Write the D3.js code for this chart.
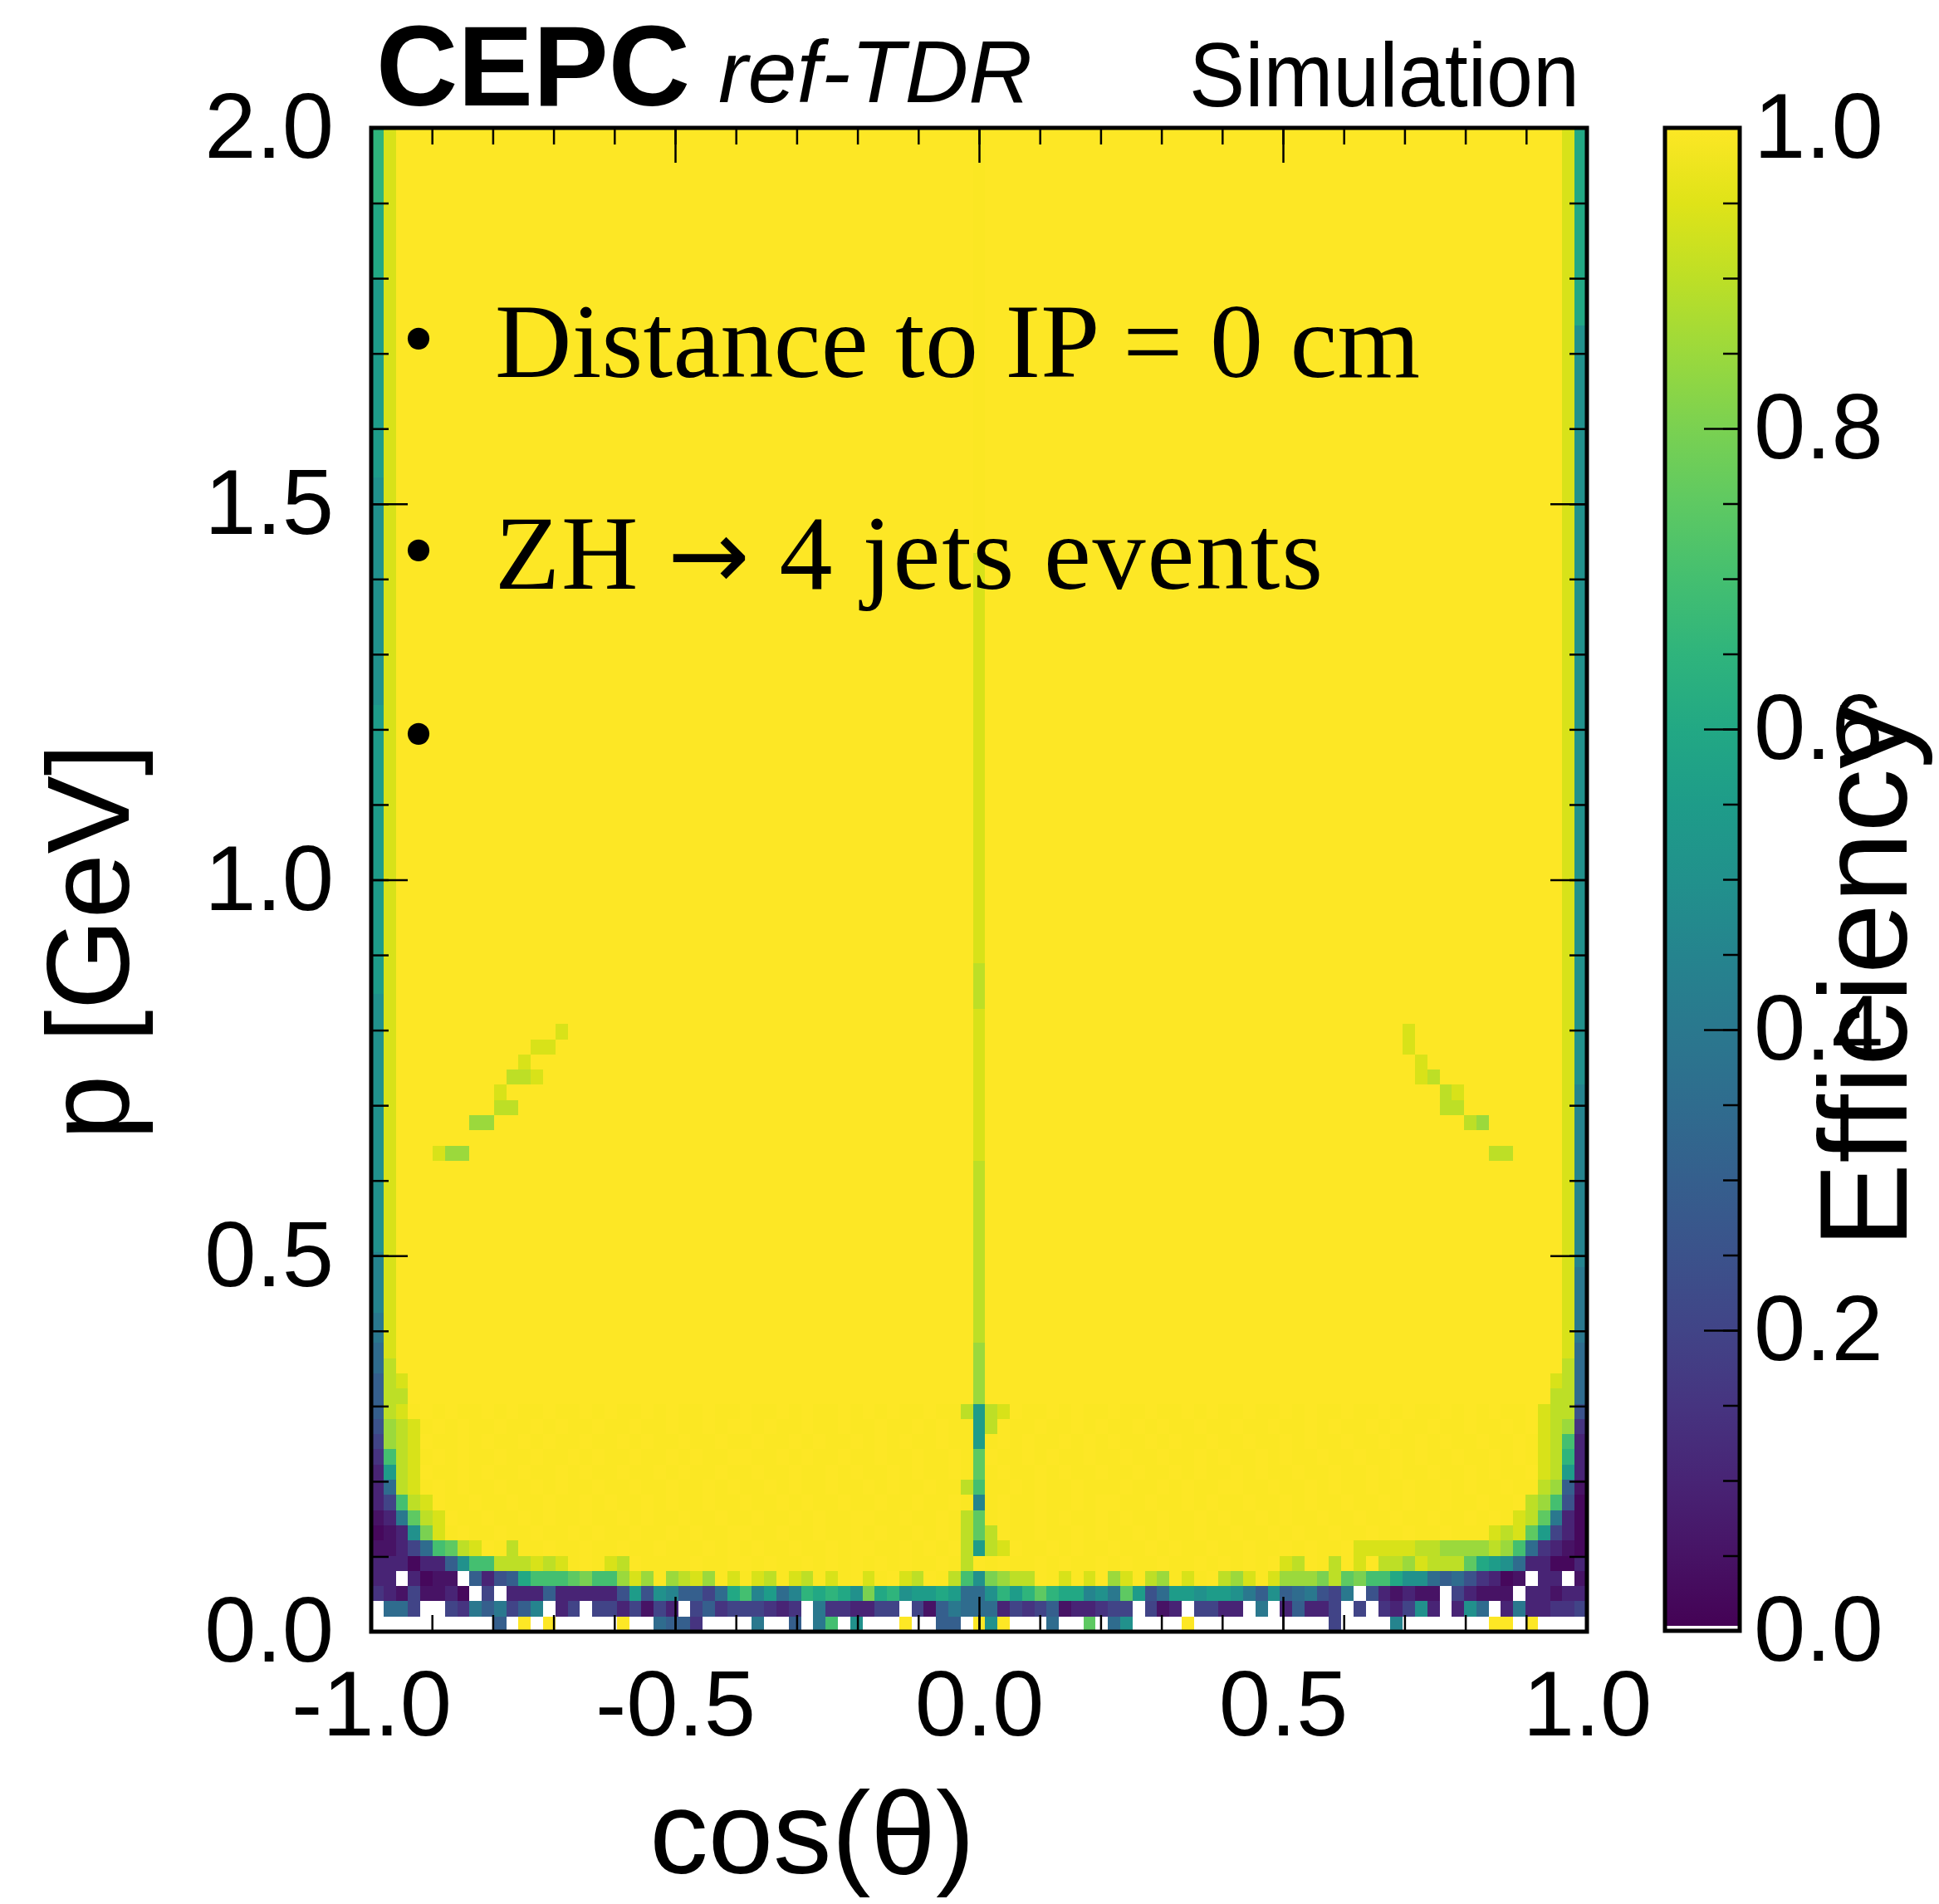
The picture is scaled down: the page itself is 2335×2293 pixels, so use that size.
<!DOCTYPE html>
<html lang="en">
<head>
<meta charset="UTF-8">
<title>CEPC tracking efficiency</title>
<script src="https://d3js.org/d3.v7.min.js"></script>
<style>
  body { margin: 0; background: #fff; }
  svg { display: block; }
</style>
</head>
<body>
<svg id="chart" width="2335" height="2293"></svg>
<script>
// binning of the histogram
const nBinsX = 99, nBinsY = 99;
const cosRange = [-1, 1];
const pRange = [0, 2];

// efficiency level code used in the strings below ("." = empty bin)
const levelChars = "0123456789ABCDEFGHIjJK";
const levelValues = [0.02, 0.05, 0.1, 0.15, 0.2, 0.25, 0.3, 0.35, 0.4, 0.45, 0.5,
                     0.55, 0.6, 0.65, 0.7, 0.75, 0.8, 0.85, 0.9, 0.94, 0.993, 1.0];
const bulkLevel = "K";

// lowest 15 momentum bins, row 0 = 0-0.02 GeV, columns cos = -1 .. 1 (groups of 10)
const lowRows = [
  ".......... 6.K.K..... K..7663... .8..6.8E.A ...K..66.K AK...7..F. 7A....K... ........4. ...9...... .KK.K....",
  ".774..4386 8469.24.44 24142.4634 44323.8332 244.416877 7243461223 44.412.442 2.8.26224. 4.324A2.2A 7.2822334",
  "32141120.4 .222622222 5B5A96647C E9B79DCDCA GCDABBCB77 ADBDFDCC9A 8FB57BBABB A86A678548 .521211.42 111.22122",
  "22.2011.62 56CEEEFGEE HjHJHIjHJj JjIJjIJjJK jJKjIKJIEA GHIIKJjJjK HjJIHJjJKI HjJjHHHGIF GEECAA7675 3201.22.1",
  "2220226AEE IIIjIjJKJj IKJJJJKJJK KJKJJKJKJK JKJKJJKJIK JKJJKJKJJK JKJJKJJKJK JKJKjIKJIK jKIIHjIIIF CBA722002",
  "11247EFIjK JIJJKJJKJJ KJJKJJJKJK JKJJKJJKJK KJJKJKJKIB IjKJJKJKJJ KJJKJKJJKJ JKJJKJKJJK jjjjjIIHHH HIHE73210",
  "012AGjJKJJ KJJKJJKJKJ JKJJKJKJJK KJJKJJKJJK JKJJKJKJIF IKJJKJJKJK JJKJKJJKJJ KJJKJKJJKJ JKJJKJJKJJ JjIjFB420",
  "128FIjKJJK JJKJKJJKJJ KJKJJKJJKJ JKJJKJKJJK KJJKJJKJIF JKJJKJKJJK JKJJKJJKJK JJKJKJJKJJ KJJKJJKJJK JKJjIF820",
  "24EIjKJJKJ JKJJKJJKJK JJKJKJJKJJ KJJKJKJJKJ JKJJKJJKJ9 JKJJKJJKJK KJJKJJKJKJ JKJJKJKJJK JJKJKJJKJJ KJJKIHE50",
  "27IjJKJKJJ KJJKJKJJKJ JKJJKJJKJK JJKJKJJKJJ KJKJJKJJIE JJKJKJJKJJ JKJJKJKJJK KJJKJJKJKJ JKJJKJJKJK JJKJJIH61",
  "2BIjKJJKJK JJKJJKJKJJ KJJKJKJJKJ JKJJKJJKJK JJKJKJJKJF JKJJKJKJJK JJKJJKJKJJ KJKJJKJJKJ JKJKJJKJJK JKJJKjIB2",
  "3EIjJKJKJJ KJJKJJKJKJ JKJJKJKJJK KJJKJKJJKJ JKJJKJJKJF KJJKJKJJKJ JKJJKJJKJK JJKJKJJKJJ KJJKJKJJKJ JKJKJjID2",
  "4HIjKJJKJK JJKJKJJKJJ KJKJJKJJKJ JKJJKJKJJK JKJKJJKJJB JKJKJJKJKJ KJJKJKJJKJ JKJJKJKJJK JJKJJKJKJJ KJJKJjIE2",
  "5HIjJKJKJJ KJJKJKJJKJ JKJJKJJKJK KJKJJKJJKJ JKJJKJKJJB IKJJKJJKJK JJKJKJJKJJ KJJKJJKJKJ JKJKJJKJJK JJKJKjIH3",
  "6IjJKJKJJK JKJJKJJKJK JJKJKJJKJJ KJJKJKJJKJ KJKJJKJJIB IjKJJKJKJJ KJJKJJKJKJ JKJJKJKJJK JJKJKJJKJK JKJJKjII5"
];

// higher momentum bins: runs [fromRow, toRow, level] for the special columns
const leftEdgeRuns = [[15, 16, "6"], [17, 18, "7"], [19, 20, "8"], [21, 24, "9"], [25, 41, "A"],
                      [42, 60, "B"], [61, 75, "A"], [76, 88, "B"], [89, 93, "C"], [94, 98, "D"]];
const leftInnerRuns = [[15, 17, "I"], [18, 98, "j"]];
const centreRuns = [[15, 18, "H"], [19, 30, "I"], [31, 40, "j"], [41, 43, "I"], [44, 70, "j"], [71, 98, "J"]];
const rightInnerRuns = [[15, 17, "I"], [18, 98, "j"]];
const rightEdgeRuns = [[15, 18, "7"], [19, 23, "8"], [24, 35, "9"], [36, 60, "A"], [61, 85, "A"], [86, 98, "C"]];

// isolated lower-efficiency bins [col, row, level]
const spotCells = [
  [2, 15, "I"], [2, 16, "j"], [96, 15, "I"], [96, 16, "j"],
  [5, 31, "j"], [6, 31, "H"], [7, 31, "H"], [8, 33, "H"], [9, 33, "H"], [10, 34, "I"], [11, 34, "I"],
  [10, 35, "j"], [11, 36, "I"], [12, 36, "I"], [13, 36, "j"], [12, 37, "j"], [13, 38, "j"], [14, 38, "j"], [15, 39, "j"],
  [92, 31, "I"], [91, 31, "I"], [90, 33, "H"], [89, 33, "I"], [88, 34, "I"], [87, 34, "I"], [87, 35, "I"],
  [88, 35, "j"], [86, 36, "I"], [85, 36, "j"], [85, 37, "j"], [84, 38, "j"], [84, 39, "j"]
];

// axis ticks and labels
const cosMajor = [-1, -0.5, 0, 0.5, 1];
const cosMajorLabels = ["-1.0", "-0.5", "0.0", "0.5", "1.0"];
const pMajor = [0, 0.5, 1, 1.5, 2];
const pMajorLabels = ["0.0", "0.5", "1.0", "1.5", "2.0"];
const effMajor = [0, 0.2, 0.4, 0.6, 0.8, 1];
const effMajorLabels = ["0.0", "0.2", "0.4", "0.6", "0.8", "1.0"];

// legend lines, each split in pieces so the arrow can use another font
const bulletLines = [
  [["Distance to IP = 0 cm", false]],
  [["ZH ", false], ["\u2192", true], [" 4 jets events", false]],
  []
];
const bulletLineLengths = [1114, 997, 0];

// ---------------------------------------------------------------
const grid = [];
for (let r = 0; r < nBinsY; r++) {
  let row;
  if (r < lowRows.length) {
    row = lowRows[r].replace(/\s+/g, "").split("");
    if (row.length !== nBinsX) console.warn("row", r, "has", row.length, "bins");
  } else {
    row = new Array(nBinsX).fill(bulkLevel);
  }
  grid.push(row);
}
function applyRuns(col, runs) {
  runs.forEach(([a, b, c]) => { for (let r = a; r <= b; r++) grid[r][col] = c; });
}
applyRuns(0, leftEdgeRuns);
applyRuns(1, leftInnerRuns);
applyRuns(49, centreRuns);
applyRuns(97, rightInnerRuns);
applyRuns(98, rightEdgeRuns);
spotCells.forEach(([c, r, l]) => { grid[r][c] = l; });

const cells = [];
grid.forEach((row, r) => row.forEach((ch, c) => {
  const k = levelChars.indexOf(ch);
  if (k >= 0) cells.push({ col: c, row: r, eff: levelValues[k] });
}));

const svg = d3.select("#chart");
const plot = { left: 447, right: 1911, top: 154, bottom: 1965 };
const sans = "'Liberation Sans', Arial, Helvetica, sans-serif";
const serif = "'Liberation Serif', 'Times New Roman', serif";

const x = d3.scaleLinear().domain(cosRange).range([plot.left, plot.right]);
const y = d3.scaleLinear().domain(pRange).range([plot.bottom, plot.top]);
const colour = d3.scaleSequential(d3.interpolateViridis).domain([0, 1]);
const bw = (cosRange[1] - cosRange[0]) / nBinsX;
const bh = (pRange[1] - pRange[0]) / nBinsY;

svg.append("rect").attr("width", 2335).attr("height", 2293).attr("fill", "#fff");

svg.append("g")
  .selectAll("rect")
  .data(cells)
  .join("rect")
  .attr("x", d => x(cosRange[0] + d.col * bw))
  .attr("y", d => y(pRange[0] + (d.row + 1) * bh))
  .attr("width", d => x(cosRange[0] + (d.col + 1) * bw) - x(cosRange[0] + d.col * bw))
  .attr("height", d => y(pRange[0] + d.row * bh) - y(pRange[0] + (d.row + 1) * bh))
  .attr("fill", d => colour(d.eff))
  .attr("shape-rendering", "crispEdges");

function styleAxis(g, size) {
  g.select(".domain").remove();
  g.selectAll(".tick line").attr("stroke", "#000").attr("stroke-width", 2.5);
  g.attr("font-family", sans).attr("font-size", size || 112);
  g.selectAll(".tick text").attr("fill", "#000");
}

const cosMinor = d3.range(-10, 11).map(i => i / 10);
const pMinor = d3.range(0, 21).map(i => i / 10);

// x axis
svg.append("g").attr("transform", `translate(0,${plot.bottom})`)
  .call(d3.axisBottom(x).tickValues(cosMinor).tickSize(-20).tickFormat(""))
  .call(styleAxis);
svg.append("g").attr("transform", `translate(0,${plot.bottom})`)
  .call(d3.axisBottom(x).tickValues(cosMajor).tickSize(-42).tickPadding(45)
    .tickFormat((d, i) => cosMajorLabels[i]))
  .call(styleAxis);
svg.append("g").attr("transform", `translate(0,${plot.top})`)
  .call(d3.axisTop(x).tickValues(cosMinor).tickSize(-20).tickFormat(""))
  .call(styleAxis);
svg.append("g").attr("transform", `translate(0,${plot.top})`)
  .call(d3.axisTop(x).tickValues(cosMajor).tickSize(-42).tickFormat(""))
  .call(styleAxis);

// y axis
svg.append("g").attr("transform", `translate(${plot.left},0)`)
  .call(d3.axisLeft(y).tickValues(pMinor).tickSize(-21).tickFormat(""))
  .call(styleAxis);
svg.append("g").attr("transform", `translate(${plot.left},0)`)
  .call(d3.axisLeft(y).tickValues(pMajor).tickSize(-44).tickPadding(45)
    .tickFormat((d, i) => pMajorLabels[i]))
  .call(styleAxis);
svg.append("g").attr("transform", `translate(${plot.right},0)`)
  .call(d3.axisRight(y).tickValues(pMinor).tickSize(-21).tickFormat(""))
  .call(styleAxis);
svg.append("g").attr("transform", `translate(${plot.right},0)`)
  .call(d3.axisRight(y).tickValues(pMajor).tickSize(-44).tickFormat(""))
  .call(styleAxis);

svg.append("rect")
  .attr("x", plot.left).attr("y", plot.top)
  .attr("width", plot.right - plot.left).attr("height", plot.bottom - plot.top)
  .attr("fill", "none").attr("stroke", "#000").attr("stroke-width", 5);

// colour bar
const cb = { left: 2005, right: 2095, top: 154, bottom: 1964 };
const yc = d3.scaleLinear().domain([0, 1]).range([cb.bottom, cb.top]);
const grad = svg.append("defs").append("linearGradient")
  .attr("id", "viridis").attr("x1", 0).attr("y1", 1).attr("x2", 0).attr("y2", 0);
grad.selectAll("stop").data(d3.range(0, 1.0001, 0.05)).join("stop")
  .attr("offset", d => d).attr("stop-color", d => colour(d));
svg.append("rect")
  .attr("x", cb.left).attr("y", cb.top)
  .attr("width", cb.right - cb.left).attr("height", cb.bottom - cb.top)
  .attr("fill", "url(#viridis)");
svg.append("rect")
  .attr("x", cb.left).attr("y", cb.bottom - 6)
  .attr("width", cb.right - cb.left).attr("height", 4)
  .attr("fill", "#fff");
svg.append("g").attr("transform", `translate(${cb.right},0)`)
  .call(d3.axisRight(yc).tickValues(d3.range(0, 21).map(i => i / 20)).tickSize(-20).tickFormat(""))
  .call(styleAxis);
svg.append("g").attr("transform", `translate(${cb.right},0)`)
  .call(d3.axisRight(yc).tickValues(effMajor).tickSize(-43).tickPadding(17)
    .tickFormat((d, i) => effMajorLabels[i]))
  .call(styleAxis);
svg.append("rect")
  .attr("x", cb.left).attr("y", cb.top)
  .attr("width", cb.right - cb.left).attr("height", cb.bottom - cb.top)
  .attr("fill", "none").attr("stroke", "#000").attr("stroke-width", 5);

// titles
svg.append("text").attr("x", 978).attr("y", 2256)
  .attr("text-anchor", "middle").attr("font-family", sans).attr("font-size", 141)
  .text("cos(\u03b8)");
svg.append("text").attr("transform", "translate(155,1134) rotate(-90)")
  .attr("text-anchor", "middle").attr("font-family", sans).attr("font-size", 141)
  .text("p [GeV]");
svg.append("text").attr("transform", "translate(2296,1176) rotate(-90)")
  .attr("text-anchor", "middle").attr("font-family", sans).attr("font-size", 150)
  .attr("textLength", 654).attr("lengthAdjust", "spacingAndGlyphs")
  .text("Efficiency");

svg.append("text").attr("x", 453).attr("y", 127)
  .attr("font-family", sans).attr("font-weight", "bold").attr("font-size", 137)
  .attr("textLength", 378).attr("lengthAdjust", "spacingAndGlyphs")
  .text("CEPC");
svg.append("text").attr("x", 865).attr("y", 123)
  .attr("font-family", sans).attr("font-style", "italic").attr("font-size", 106)
  .attr("textLength", 378).attr("lengthAdjust", "spacingAndGlyphs")
  .text("ref-TDR");
svg.append("text").attr("x", 1432).attr("y", 128)
  .attr("font-family", sans).attr("font-size", 109)
  .attr("textLength", 470).attr("lengthAdjust", "spacingAndGlyphs")
  .text("Simulation");

// bullet list
const bulletY = [412, 667, 888];
bulletLines.forEach((pieces, i) => {
  svg.append("text").attr("x", 504).attr("y", bulletY[i] + 32)
    .attr("text-anchor", "middle").attr("font-family", serif).attr("font-size", 110)
    .text("\u2022");
  if (pieces.length) {
    const t = svg.append("text").attr("x", 596).attr("y", bulletY[i] + 42)
      .attr("font-family", serif).attr("font-size", 128)
      .attr("textLength", bulletLineLengths[i]);
    pieces.forEach(([s, arrow]) => {
      const ts = t.append("tspan").text(s);
      if (arrow) ts.attr("font-family", "'DejaVu Sans', sans-serif").attr("font-size", 118);
    });
  }
});
</script>
</body>
</html>
